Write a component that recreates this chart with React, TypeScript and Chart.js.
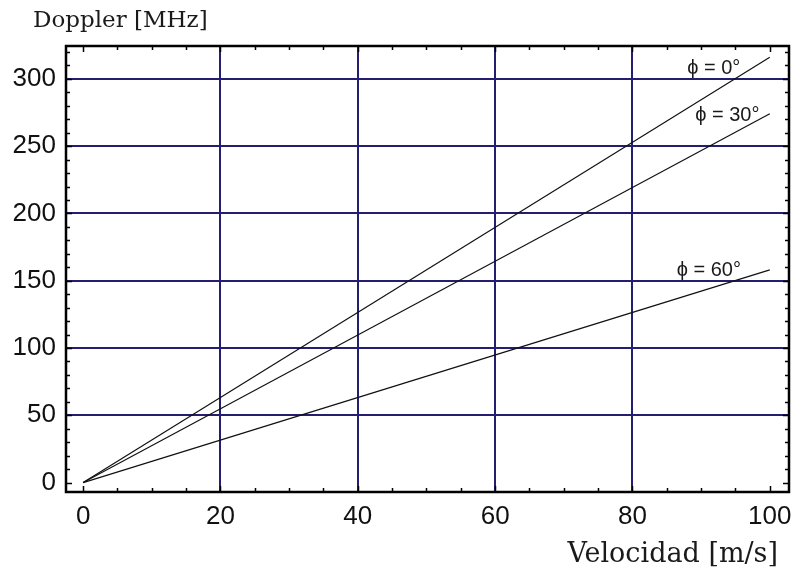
import React, { useEffect, useRef } from "react";
import { Chart, registerables } from "chart.js";

Chart.register(...registerables);

const velocities = [0, 100];
const phi0 = [0, 316];
const phi30 = [0, 274];
const phi60 = [0, 158];
const seriesLabels = ["ϕ = 0°", "ϕ = 30°", "ϕ = 60°"];
const xTicks = [0, 20, 40, 60, 80, 100];
const yTicks = [0, 50, 100, 150, 200, 250, 300];

const NAVY = "#251d70";
const SANS = "'Liberation Sans', Arial, sans-serif";
const SERIF = "'DejaVu Serif', serif";

export default function App() {
  const ref = useRef<HTMLCanvasElement | null>(null);
  useEffect(() => {
    document.body.style.margin = "0";
    const canvas = ref.current!;
    const mk = (vals: number[]) => velocities.map((v, i) => ({ x: v, y: vals[i] }));

    const decor = {
      id: "decor",
      afterDraw(chart: any) {
        const { ctx, chartArea: a, scales } = chart;
        const xs = scales.x, ys = scales.y;
        ctx.save();
        ctx.strokeStyle = "#000";
        ctx.lineWidth = 1.5;
        ctx.beginPath();
        for (let v = 0; v <= 100; v += 5) {
          const px = Math.round(xs.getPixelForValue(v)) + 0.5;
          const len = v % 20 === 0 ? 6 : 4;
          ctx.moveTo(px, a.bottom);
          ctx.lineTo(px, a.bottom - len);
          ctx.moveTo(px, a.top);
          ctx.lineTo(px, a.top + len);
        }
        for (let v = 0; v <= 320; v += 10) {
          const py = Math.round(ys.getPixelForValue(v)) + 0.5;
          const len = v % 50 === 0 ? 6 : 4;
          ctx.moveTo(a.left, py);
          ctx.lineTo(a.left + len, py);
          ctx.moveTo(a.right, py);
          ctx.lineTo(a.right - len, py);
        }
        ctx.stroke();
        ctx.lineWidth = 2.5;
        ctx.strokeRect(a.left, a.top, a.right - a.left, a.bottom - a.top);
        ctx.fillStyle = "#1a1a1a";
        ctx.font = `20px ${SANS}`;
        ctx.textAlign = "right";
        ctx.textBaseline = "alphabetic";
        const pos = [
          [95.7, 303.4],
          [98.5, 269],
          [95.8, 153.8],
        ];
        seriesLabels.forEach((t, i) => {
          ctx.fillText(t, xs.getPixelForValue(pos[i][0]), ys.getPixelForValue(pos[i][1]));
        });
        ctx.textAlign = "left";
        ctx.font = `23px ${SERIF}`;
        ctx.fillText("Doppler [MHz]", 33, 27);
        ctx.textAlign = "right";
        ctx.font = `27px ${SERIF}`;
        ctx.fillText("Velocidad [m/s]", 778, 562);
        ctx.restore();
      },
    };

    const lineDs = (label: string, vals: number[]) => ({
      label,
      data: mk(vals),
      borderColor: "#111",
      borderWidth: 1.2,
      pointRadius: 0,
      fill: false,
      tension: 0,
    });

    const chart = new Chart(canvas, {
      type: "line",
      data: {
        datasets: [
          lineDs(seriesLabels[0], phi0),
          lineDs(seriesLabels[1], phi30),
          lineDs(seriesLabels[2], phi60),
        ],
      },
      options: {
        animation: false,
        responsive: false,
        layout: { padding: { top: 46, right: 4, left: 0, bottom: 0 } },
        plugins: { legend: { display: false }, tooltip: { enabled: false } },
        scales: {
          x: {
            type: "linear",
            min: -2.5,
            max: 102.8,
            afterBuildTicks: (s: any) => {
              s.ticks = xTicks.map((v) => ({ value: v }));
            },
            afterFit: (s: any) => {
              s.height = 77;
              s.paddingLeft = 0;
              s.paddingRight = 0;
            },
            border: { display: false },
            grid: {
              drawTicks: false,
              lineWidth: 2,
              color: (c: any) =>
                c.tick && c.tick.value > 0 && c.tick.value < 100 ? NAVY : "rgba(0,0,0,0)",
            },
            ticks: {
              autoSkip: false,
              maxRotation: 0,
              padding: 9,
              color: "#111",
              font: { family: SANS, size: 26 },
            },
          },
          y: {
            type: "linear",
            min: -7,
            max: 324.4,
            afterBuildTicks: (s: any) => {
              s.ticks = yTicks.map((v) => ({ value: v }));
            },
            afterFit: (s: any) => {
              s.width = 66;
              s.paddingTop = 0;
              s.paddingBottom = 0;
            },
            border: { display: false },
            grid: {
              drawTicks: false,
              lineWidth: 2,
              color: (c: any) =>
                c.tick && c.tick.value > 0 ? NAVY : "rgba(0,0,0,0)",
            },
            ticks: {
              autoSkip: false,
              padding: 10,
              color: "#111",
              font: { family: SANS, size: 26 },
            },
          },
        },
      },
      plugins: [decor],
    });
    return () => chart.destroy();
  }, []);
  return (
    <div style={{ width: 793, height: 569 }}>
      <canvas ref={ref} width={793} height={569} style={{ display: "block" }} />
    </div>
  );
}
